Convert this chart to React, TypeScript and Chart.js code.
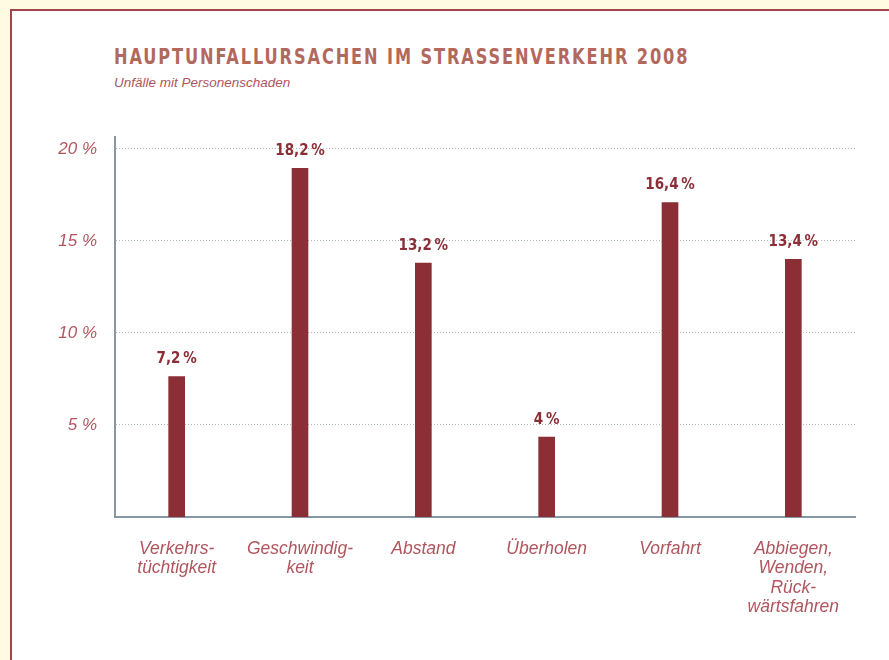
import React, { useEffect, useRef } from "react";
import { Chart, registerables } from "chart.js";

Chart.register(...registerables);

const categories: string[][] = [
  ["Verkehrs-", "tüchtigkeit"],
  ["Geschwindig-", "keit"],
  ["Abstand"],
  ["Überholen"],
  ["Vorfahrt"],
  ["Abbiegen,", "Wenden,", "Rück-", "wärtsfahren"],
];
const values: number[] = [7.2, 18.2, 13.2, 4, 16.4, 13.4];
const valueLabels: string[] = ["7,2\u2009%", "18,2\u2009%", "13,2\u2009%", "4\u2009%", "16,4\u2009%", "13,4\u2009%"];
const yTicks: number[] = [5, 10, 15, 20];

const BAR = "#8b2e36";
const TEXT = "#b0555d";
const AXIS = "#8797a6";
const GRID = "#aebcc6";
const LABEL_FONT = "'Liberation Sans', Arial, sans-serif";

const valueLabelPlugin = {
  id: "valueLabels",
  afterDatasetsDraw(chart: any) {
    const ctx = chart.ctx;
    const meta = chart.getDatasetMeta(0);
    ctx.save();
    ctx.fillStyle = BAR;
    ctx.font = 'bold 15px "Liberation Sans Narrow", "DejaVu Sans Condensed", "Roboto Condensed", sans-serif';
    ctx.textAlign = "center";
    ctx.textBaseline = "middle";
    meta.data.forEach((el: any, i: number) => {
      ctx.fillText(valueLabels[i], el.x, el.y - 17);
    });
    ctx.restore();
  },
};

export default function App() {
  const ref = useRef<HTMLCanvasElement | null>(null);
  useEffect(() => {
    if (!ref.current) return;
    const chart = new Chart(ref.current, {
      type: "bar",
      data: {
        labels: categories,
        datasets: [
          {
            data: values,
            backgroundColor: BAR,
            borderWidth: 0,
            barThickness: 16,
            yAxisID: "yb",
            base: -0.227,
          } as any,
        ],
      },
      plugins: [valueLabelPlugin],
      options: {
        animation: false,
        responsive: false,
        layout: { padding: { top: 137, right: 34, left: 0, bottom: 0 } },
        plugins: { legend: { display: false }, tooltip: { enabled: false }, title: { display: false } },
        scales: {
          x: {
            type: "category",
            offset: true,
            grid: { display: false, drawTicks: false },
            border: { color: AXIS, width: 2 },
            ticks: {
              color: TEXT,
              padding: 23,
              maxRotation: 0,
              autoSkip: false,
              font: { family: LABEL_FONT, size: 17.5, style: "italic", weight: "normal", lineHeight: 1.09 },
            },
            afterFit: (s: any) => {
              s.height = 143;
            },
          },
          y: {
            type: "linear",
            position: "left",
            min: 0,
            max: 20.65,
            grid: {
              color: GRID,
              lineWidth: 1,
              drawTicks: false,
            },
            border: { color: AXIS, width: 2, dash: [1, 2] },
            afterBuildTicks: (s: any) => {
              s.ticks = yTicks.map((v) => ({ value: v }));
            },
            ticks: {
              color: TEXT,
              padding: 18,
              font: { family: LABEL_FONT, size: 17, style: "italic", weight: "normal" },
              callback: (v: any) => v + " %",
            },
            afterFit: (s: any) => {
              s.width = 115;
            },
          },
          yb: {
            type: "linear",
            position: "right",
            display: false,
            min: -0.227,
            max: 19.86,
            grid: { display: false },
          },
        },
      },
    } as any);
    return () => chart.destroy();
  }, []);

  return (
    <div style={{ position: "relative", width: 889, height: 660, overflow: "hidden" }}>
      <style>{`body{margin:0;background:#fffbe2;}`}</style>
      <div
        style={{
          position: "absolute",
          left: 10,
          top: 9,
          width: 920,
          height: 700,
          background: "#ffffff",
          border: "2px solid #a3454b",
        }}
      />
      <div
        style={{
          position: "absolute",
          left: 114,
          top: 43,
          fontFamily: '"Liberation Sans Narrow", "DejaVu Sans Condensed", sans-serif',
          fontWeight: "bold",
          fontSize: 21,
          letterSpacing: "2.2px",
          color: "#b3685e",
          whiteSpace: "nowrap",
          lineHeight: "28px",
          transform: "scaleX(0.857)",
          transformOrigin: "left center",
        }}
      >
        HAUPTUNFALLURSACHEN IM STRASSENVERKEHR 2008
      </div>
      <div
        style={{
          position: "absolute",
          left: 114,
          top: 74,
          fontFamily: LABEL_FONT,
          fontStyle: "italic",
          fontSize: 13.5,
          color: TEXT,
          whiteSpace: "nowrap",
          lineHeight: "18px",
        }}
      >
        Unfälle mit Personenschaden
      </div>
      <canvas
        ref={ref}
        width={889}
        height={660}
        style={{ position: "absolute", left: 0, top: 0, width: 889, height: 660 }}
      />
    </div>
  );
}
